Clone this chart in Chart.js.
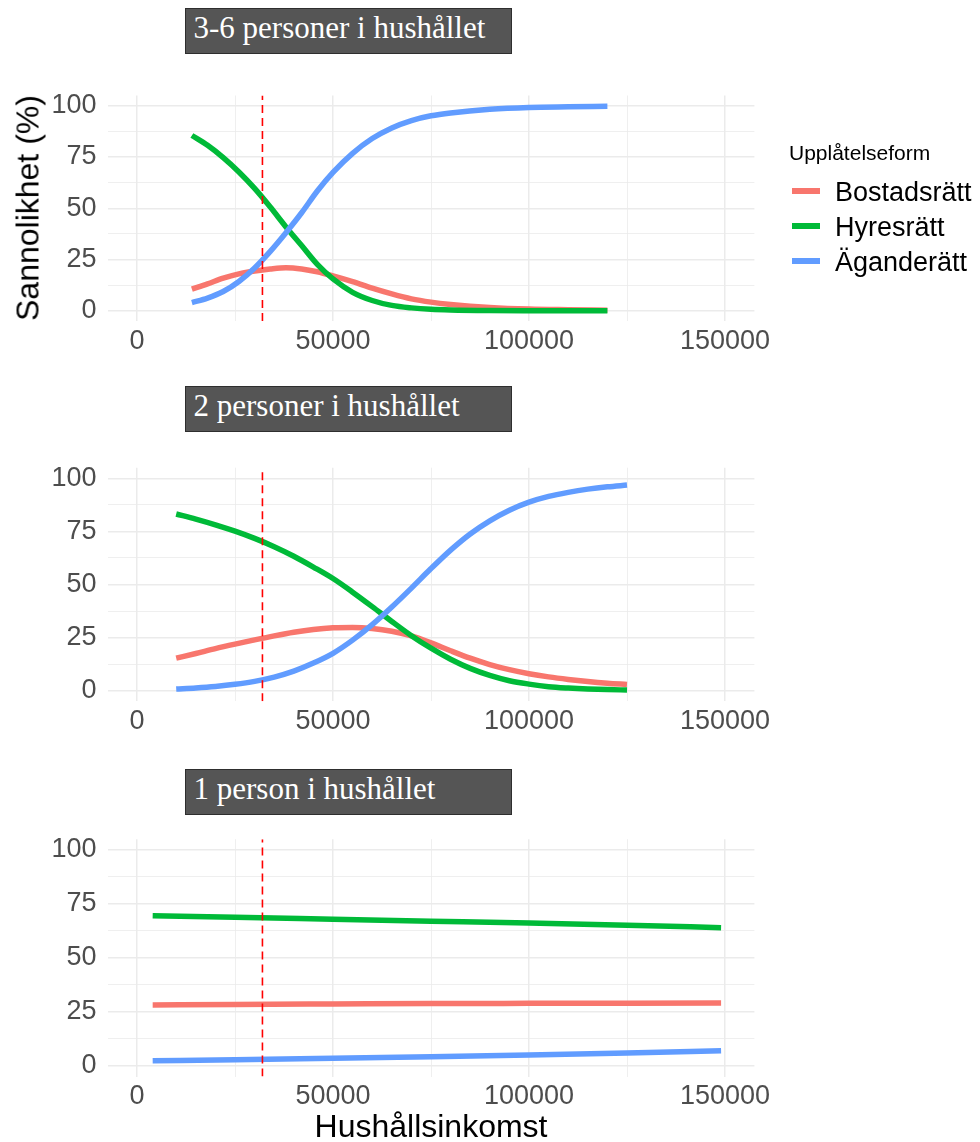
<!DOCTYPE html>
<html>
<head>
<meta charset="utf-8">
<script src="https://cdn.jsdelivr.net/npm/chart.js"></script>
<style>
	body { margin: 0; background: #fff; width: 980px; height: 1142px; position: relative; overflow: hidden; font-family: "Liberation Sans", Arial, sans-serif; }
	canvas { position: absolute; left: 0; }
	.ptitle { position: absolute; z-index: 2; left: 185px; width: 327px; height: 46px; box-sizing: border-box; background: #555555; border: 1.5px solid #2e2e2e; color: #fff; font-family: "Liberation Serif", serif; font-size: 31px; line-height: 38px; padding-left: 7.5px; white-space: nowrap; }
	.ytitle { position: absolute; left: 28px; top: 208px; font-size: 32px; color: #000; white-space: nowrap; transform: translate(-50%, -50%) rotate(-90deg); }
	.xtitle { position: absolute; left: 431px; top: 1126px; font-size: 32px; color: #000; white-space: nowrap; transform: translate(-50%, -50%); }
	.legtitle { position: absolute; left: 789px; top: 140px; font-size: 21px; line-height: 26px; color: #000; }
	.legkey { position: absolute; left: 792px; width: 28px; height: 6px; }
	.legtext { position: absolute; left: 835px; font-size: 27px; line-height: 30px; color: #000; white-space: nowrap; }
</style>
</head>
<body>
<div class="ptitle" style="top:8px">3-6 personer i hushållet</div>
<div class="ptitle" style="top:386px">2 personer i hushållet</div>
<div class="ptitle" style="top:769px">1 person i hushållet</div>

<canvas id="c36" width="795" height="306" style="top:60px"></canvas>
<canvas id="c2" width="795" height="317" style="top:430px"></canvas>
<canvas id="c1" width="795" height="317" style="top:805px"></canvas>

<div class="ytitle">Sannolikhet (%)</div>
<div class="xtitle">Hushållsinkomst</div>
<div id="legend"></div>

<script>
// serier
const seriesNames = ["Bostadsrätt", "Hyresrätt", "Äganderätt"];
const seriesColors = ["#F8766D", "#00BA38", "#619CFF"];

// axlar
const xTickValues = [0, 25000, 50000, 75000, 100000, 125000, 150000];
const yTickValues = [0, 12.5, 25, 37.5, 50, 62.5, 75, 87.5, 100];
const incomeLine = 32000;

// 3-6 personer
const income36 = [14000, 18000, 22000, 26000, 30000, 34000, 38000, 42000, 46000, 50000, 55000, 60000, 65000, 70000, 75000, 80000, 90000, 100000, 110000, 120000];
const bostad36 = [10.5, 13.1, 15.9, 18.0, 19.4, 20.4, 21.0, 20.4, 19.0, 17.0, 14.2, 11.0, 8.2, 5.8, 4.2, 3.1, 1.6, 0.8, 0.5, 0.3];
const hyres36 = [85.5, 80.7, 74.7, 67.7, 59.7, 50.6, 40.9, 31.8, 22.6, 15.5, 9.0, 5.0, 2.6, 1.4, 0.7, 0.37, 0.1, 0.03, 0.01, 0];
const agan36 = [4.0, 6.2, 9.4, 14.3, 20.9, 29.0, 38.1, 47.8, 58.4, 67.5, 76.8, 84.0, 89.2, 92.8, 95.1, 96.5, 98.3, 99.2, 99.5, 99.7];

// 2 personer
const income2 = [10000, 15000, 20000, 25000, 30000, 35000, 40000, 45000, 50000, 55000, 60000, 65000, 70000, 75000, 80000, 85000, 90000, 95000, 100000, 105000, 110000, 115000, 120000, 125000];
const bostad2 = [15.3, 17.5, 19.8, 21.9, 23.9, 25.8, 27.5, 28.8, 29.6, 29.8, 29.3, 28.0, 25.8, 22.5, 18.8, 15.3, 12.3, 9.9, 8.0, 6.5, 5.3, 4.3, 3.5, 2.9];
const hyres2 = [83.2, 80.8, 78.1, 75.1, 71.7, 67.8, 63.3, 58.2, 52.8, 46.4, 39.6, 32.6, 25.9, 20.0, 14.8, 10.5, 7.2, 4.7, 3.1, 1.9, 1.24, 0.79, 0.51, 0.32];
const agan2 = [0.8, 1.3, 2.0, 3.0, 4.4, 6.4, 9.2, 13.0, 17.6, 23.8, 31.1, 39.4, 48.3, 57.5, 66.2, 73.8, 80.0, 85.0, 88.8, 91.5, 93.4, 94.9, 96.0, 96.8];

// 1 person
const income1 = [4000, 25000, 50000, 75000, 100000, 125000, 149000];
const bostad1 = [28.2, 28.4, 28.6, 28.8, 28.9, 29.0, 29.1];
const hyres1 = [69.5, 68.8, 67.9, 67.0, 66.1, 65.1, 64.0];
const agan1 = [2.3, 2.8, 3.5, 4.2, 5.0, 5.9, 6.9];

const X_MIN = -7500, X_MAX = 157500, Y_MIN = -5, Y_MAX = 105;
const tickFont = { family: "'Liberation Sans', Arial, sans-serif", size: 27 };

const panels = [
	{ id: "c36", canvasTop: 60, areaTop: 95.5, areaBottom: 321, income: income36, values: [bostad36, hyres36, agan36] },
	{ id: "c2", canvasTop: 430, areaTop: 467.7, areaBottom: 701.3, income: income2, values: [bostad2, hyres2, agan2] },
	{ id: "c1", canvasTop: 805, areaTop: 839.2, areaBottom: 1076.5, income: income1, values: [bostad1, hyres1, agan1] },
];

function makeChart(p) {
	const canvas = document.getElementById(p.id);
	const xAxisHeight = canvas.height - (p.areaBottom - p.canvasTop);

	const datasets = p.values.map((vals, i) => ({
		label: seriesNames[i],
		data: p.income.map((x, j) => ({ x: x, y: vals[j] })),
		borderColor: seriesColors[i],
		borderWidth: 5.5,
		pointRadius: 0,
		cubicInterpolationMode: "monotone",
		order: 3 - i,
	}));
	// streckad referenslinje
	datasets.push({
		label: "linje",
		data: [{ x: incomeLine, y: Y_MIN }, { x: incomeLine, y: Y_MAX }],
		borderColor: "#FF0000",
		borderWidth: 1.6,
		borderDash: [8, 5],
		pointRadius: 0,
		order: 0,
	});

	return new Chart(canvas, {
		type: "line",
		data: { datasets: datasets },
		options: {
			responsive: false,
			animation: false,
			layout: { padding: { top: p.areaTop - p.canvasTop, left: 0, right: canvas.width - 754.4, bottom: 0 } },
			plugins: { legend: { display: false }, tooltip: { enabled: false } },
			scales: {
				x: {
					type: "linear",
					min: X_MIN,
					max: X_MAX,
					afterFit: (s) => { s.height = xAxisHeight; },
					afterBuildTicks: (s) => { s.ticks = xTickValues.map((v) => ({ value: v })); },
					ticks: {
						autoSkip: false,
						maxRotation: 0,
						padding: 4,
						color: "#4D4D4D",
						font: tickFont,
						callback: (v) => (v % 50000 === 0 ? String(v) : ""),
					},
					grid: {
						color: "#EBEBEB",
						drawTicks: false,
						lineWidth: (c) => (c.tick && c.tick.value % 50000 === 0 ? 1.5 : 0.8),
					},
					border: { display: false },
				},
				y: {
					min: Y_MIN,
					max: Y_MAX,
					afterFit: (s) => { s.width = 107.6; },
					afterBuildTicks: (s) => { s.ticks = yTickValues.map((v) => ({ value: v })); },
					ticks: {
						autoSkip: false,
						padding: 11,
						color: "#4D4D4D",
						font: tickFont,
						callback: (v) => (v % 25 === 0 ? String(v) : ""),
					},
					grid: {
						color: "#EBEBEB",
						drawTicks: false,
						lineWidth: (c) => (c.tick && c.tick.value % 25 === 0 ? 1.5 : 0.8),
					},
					border: { display: false },
				},
			},
		},
	});
}

window.addEventListener("load", function () {
	panels.forEach(makeChart);

	// legend
	const legend = document.getElementById("legend");
	let html = '<div class="legtitle">Upplåtelseform</div>';
	const keyCenters = [190.5, 225.5, 260.5];
	seriesNames.forEach((name, i) => {
		html += '<div class="legkey" style="top:' + (keyCenters[i] - 3) + 'px;background:' + seriesColors[i] + '"></div>';
		html += '<div class="legtext" style="top:' + (keyCenters[i] - 14) + 'px">' + name + "</div>";
	});
	legend.innerHTML = html;
});
</script>
</body>
</html>
